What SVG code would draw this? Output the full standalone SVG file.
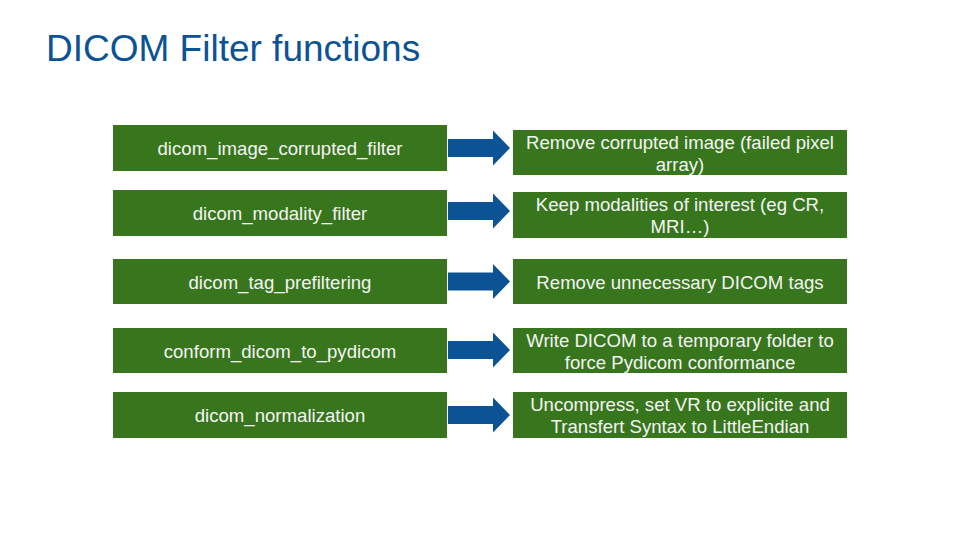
<svg xmlns="http://www.w3.org/2000/svg" width="960" height="540" viewBox="0 0 960 540">
<defs>
<style>
.box{fill:#38761d}
.t{font-family:"Liberation Sans",Arial,sans-serif;font-size:18.6px;fill:#f3f3f3;text-anchor:middle}
.arrow{fill:#0b5394}
.title{font-family:"Liberation Sans",Arial,sans-serif;font-size:37px;fill:#0b5394}
</style>
<path id="arr" d="M0,-9 L45,-9 L45,-17.5 L62,0 L45,17.5 L45,9 L0,9 Z"/>
</defs>
<rect width="960" height="540" fill="#ffffff"/>
<text class="title" x="46" y="61">DICOM Filter functions</text>
<g id="connectors" class="arrow">
<use href="#arr" x="448" y="148"/>
<use href="#arr" x="448" y="211"/>
<use href="#arr" x="448" y="281.5"/>
<use href="#arr" x="448" y="350"/>
<use href="#arr" x="448" y="415"/>
</g>
<g id="n1"><rect class="box" x="113" y="125" width="334" height="46"/><text class="t" x="280" y="155">dicom_image_corrupted_filter</text></g>
<g id="n2"><rect class="box" x="113" y="190" width="334" height="46"/><text class="t" x="280" y="220">dicom_modality_filter</text></g>
<g id="n3"><rect class="box" x="113" y="259" width="334" height="45"/><text class="t" x="280" y="288.5">dicom_tag_prefiltering</text></g>
<g id="n4"><rect class="box" x="113" y="328" width="334" height="45"/><text class="t" x="280" y="357.5">conform_dicom_to_pydicom</text></g>
<g id="n5"><rect class="box" x="113" y="392" width="334" height="46"/><text class="t" x="280" y="422">dicom_normalization</text></g>
<g id="r1"><rect class="box" x="513" y="130" width="334" height="45"/><text class="t" x="680" y="149">Remove corrupted image (failed pixel</text><text class="t" x="680" y="171">array)</text></g>
<g id="r2"><rect class="box" x="513" y="192" width="334" height="46"/><text class="t" x="680" y="211">Keep modalities of interest (eg CR,</text><text class="t" x="680" y="233">MRI…)</text></g>
<g id="r3"><rect class="box" x="513" y="259" width="334" height="45"/><text class="t" x="680" y="288.5">Remove unnecessary DICOM tags</text></g>
<g id="r4"><rect class="box" x="513" y="328" width="334" height="45"/><text class="t" x="680" y="347">Write DICOM to a temporary folder to</text><text class="t" x="680" y="369">force Pydicom conformance</text></g>
<g id="r5"><rect class="box" x="513" y="392" width="334" height="46"/><text class="t" x="680" y="411">Uncompress, set VR to explicite and</text><text class="t" x="680" y="433">Transfert Syntax to LittleEndian</text></g>
</svg>
